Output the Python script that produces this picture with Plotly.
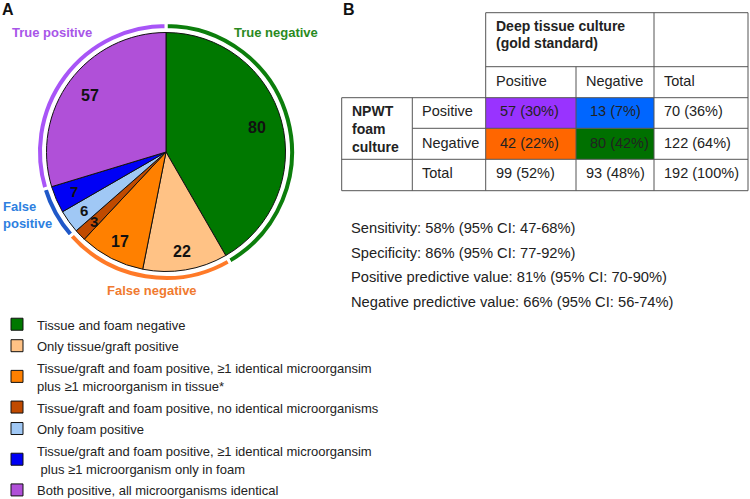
import math
import plotly.graph_objects as go

W, H = 750, 499

# ---------------- data ----------------
slice_labels = [
    "Tissue and foam negative",
    "Only tissue/graft positive",
    "Tissue/graft and foam positive, \u22651 identical microorgansim<br>plus \u22651 microorganism in tissue*",
    "Tissue/graft and foam positive, no identical microorganisms",
    "Only foam positive",
    "Tissue/graft and foam positive, \u22651 identical microorgansim<br> plus \u22651 microorganism only in foam",
    "Both positive, all microorganisms identical",
]
slice_values = [80, 22, 17, 3, 6, 7, 57]
slice_colors = ["#007800", "#FFC285", "#FF8000", "#C04A00", "#A0C8F5", "#0000F5", "#B050D8"]

group_labels = ["True negative", "False negative", "False positive", "True positive"]
group_values = [80, 42, 13, 57]
group_colors = ["#0C7E0C", "#FF7A28", "#2058C8", "#A855F7"]
group_text_colors = ["#2A8A1E", "#F07A30", "#2E7FE0", "#A855E8"]

table_col_headers = ["Positive", "Negative", "Total"]
table_row_headers = ["Positive", "Negative", "Total"]
table_counts = [[57, 13, 70], [42, 80, 122], [99, 93, 192]]
table_pcts = [[30, 7, 36], [22, 42, 64], [52, 48, 100]]
table_cell_colors = [["#9933FF", "#0066FF", None], ["#FF6600", "#007000", None], [None, None, None]]

stats_lines = [
    "Sensitivity: 58% (95% CI: 47-68%)",
    "Specificity: 86% (95% CI: 77-92%)",
    "Positive predictive value: 81% (95% CI: 70-90%)",
    "Negative predictive value: 66% (95% CI: 56-74%)",
]

FONT = "Arial, 'Liberation Sans', sans-serif"


def px(x):
    return x / W


def py(y):
    return 1 - y / H


# ---------------- pie geometry ----------------
CX, CY, R = 166, 152, 119.5
R_OUT, R_IN = 129.5, 122.5

fig = go.Figure()

legend_text = [f"<span style='font-size:13px'>{s}</span>" for s in slice_labels]

fig.add_trace(go.Pie(
    labels=legend_text,
    values=slice_values,
    marker=dict(colors=slice_colors, line=dict(color="#111111", width=1)),
    sort=False,
    direction="clockwise",
    rotation=0,
    textinfo="none",
    hoverinfo="none",
    domain=dict(x=[px(CX - R), px(CX + R)], y=[py(CY + R), py(CY - R)]),
    showlegend=True,
))

fig.add_trace(go.Pie(
    labels=group_labels,
    values=group_values,
    marker=dict(colors=group_colors, line=dict(color="white", width=3)),
    sort=False,
    direction="clockwise",
    rotation=0,
    hole=R_IN / R_OUT,
    textinfo="none",
    hoverinfo="none",
    domain=dict(x=[px(CX - R_OUT), px(CX + R_OUT)], y=[py(CY + R_OUT), py(CY - R_OUT)]),
    showlegend=False,
))

annotations = []
shapes = []

total = sum(slice_values)
cum = 0
for v in slice_values:
    mid = (cum + v / 2) / total * 2 * math.pi
    cum += v
    rr = (0.79 if v >= 50 else 0.84) * R
    x = CX + rr * math.sin(mid)
    y = CY - rr * math.cos(mid)
    annotations.append(dict(
        x=px(x), y=py(y), xref="paper", yref="paper", text=f"<b>{v}</b>",
        showarrow=False, font=dict(family=FONT, size=16 if v >= 10 else 15, color="#111111"),
        xanchor="center", yanchor="middle"))

group_label_pos = {
    "True negative": (276, 33, "center"),
    "False negative": (152, 290, "center"),
    "False positive": (1, 215, "left"),
    "True positive": (52, 33, "center"),
}
for lab, col in zip(group_labels, group_text_colors):
    x, y, anc = group_label_pos[lab]
    txt_ = lab.replace(" ", "<br>") if lab == "False positive" else lab
    annotations.append(dict(
        x=px(x), y=py(y), xref="paper", yref="paper", text=f"<b>{txt_}</b>",
        showarrow=False, font=dict(family=FONT, size=13, color=col),
        xanchor=anc, yanchor="middle", align=anc))

annotations.append(dict(x=px(0), y=py(9), xref="paper", yref="paper", text="<b>A</b>",
                        showarrow=False, font=dict(family=FONT, size=16, color="#111"),
                        xanchor="left", yanchor="middle"))
annotations.append(dict(x=px(341), y=py(9), xref="paper", yref="paper", text="<b>B</b>",
                        showarrow=False, font=dict(family=FONT, size=16, color="#111"),
                        xanchor="left", yanchor="middle"))

xs = [341.7, 412.3, 485.7, 576, 654, 748]
ys = [12.7, 66.7, 97.7, 128.3, 159.3, 190.7]
LINE = dict(color="#555555", width=1)

for i in range(3):
    for j in range(3):
        c = table_cell_colors[i][j]
        if c:
            shapes.append(dict(type="rect", xref="paper", yref="paper",
                               x0=px(xs[2 + j]), x1=px(xs[3 + j]),
                               y0=py(ys[3 + i]), y1=py(ys[2 + i]),
                               fillcolor=c, line=dict(width=0), layer="below"))


def hline(y, x0, x1):
    shapes.append(dict(type="line", xref="paper", yref="paper",
                       x0=px(x0), x1=px(x1), y0=py(y), y1=py(y), line=LINE))


def vline(x, y0, y1):
    shapes.append(dict(type="line", xref="paper", yref="paper",
                       x0=px(x), x1=px(x), y0=py(y0), y1=py(y1), line=LINE))


hline(ys[0], xs[2], xs[5])
hline(ys[1], xs[2], xs[5])
hline(ys[2], xs[0], xs[5])
hline(ys[3], xs[1], xs[5])
hline(ys[4], xs[0], xs[5])
hline(ys[5], xs[0], xs[5])
vline(xs[0], ys[2], ys[5])
vline(xs[1], ys[2], ys[5])
vline(xs[2], ys[0], ys[5])
vline(xs[3], ys[1], ys[5])
vline(xs[4], ys[0], ys[5])
vline(xs[5], ys[0], ys[5])

TFONT = dict(family=FONT, size=14.5, color="#222222")
BFONT = dict(family=FONT, size=14, color="#222222")
SFONT = dict(family=FONT, size=14.7, color="#222222")


def txt(x, y, s, bold=False, font=None):
    annotations.append(dict(x=px(x), y=py(y), xref="paper", yref="paper",
                            text=f"<b>{s}</b>" if bold else s, showarrow=False,
                            font=font or (BFONT if bold else TFONT),
                            xanchor="left", yanchor="middle", align="left"))


txt(xs[2] + 8, 25.7, "Deep tissue culture", bold=True)
txt(xs[2] + 8, 43.3, "(gold standard)", bold=True)
for j, h in enumerate(table_col_headers):
    txt(xs[2 + j] + 8, 80.7, h)
for k, w in enumerate(["NPWT", "foam", "culture"]):
    txt(xs[0] + 8, 110.7 + k * 18, w, bold=True)
row_y = [111, 142.7, 173]
for i, h in enumerate(table_row_headers):
    txt(xs[1] + 8, row_y[i], h)
    for j in range(3):
        off = 12 if table_cell_colors[i][j] else 8
        txt(xs[2 + j] + off, row_y[i], f"{table_counts[i][j]} ({table_pcts[i][j]}%)")

for k, s in enumerate(stats_lines):
    txt(348.5, 228 + k * 24.7, s, font=SFONT)

fig.update_layout(
    width=W, height=H,
    margin=dict(l=0, r=0, t=0, b=0, autoexpand=False),
    paper_bgcolor="white", plot_bgcolor="white",
    annotations=annotations, shapes=shapes,
    legend=dict(x=-0.004, y=py(308.5), xanchor="left", yanchor="top",
                font=dict(family=FONT, size=14.2, color="#222222"),
                bgcolor="rgba(0,0,0,0)", traceorder="normal",
                itemclick=False, itemdoubleclick=False),
)

fig.write_html("out.html", config={"displayModeBar": False},
               post_script="document.body.style.margin='0';document.body.style.overflow='hidden';")
